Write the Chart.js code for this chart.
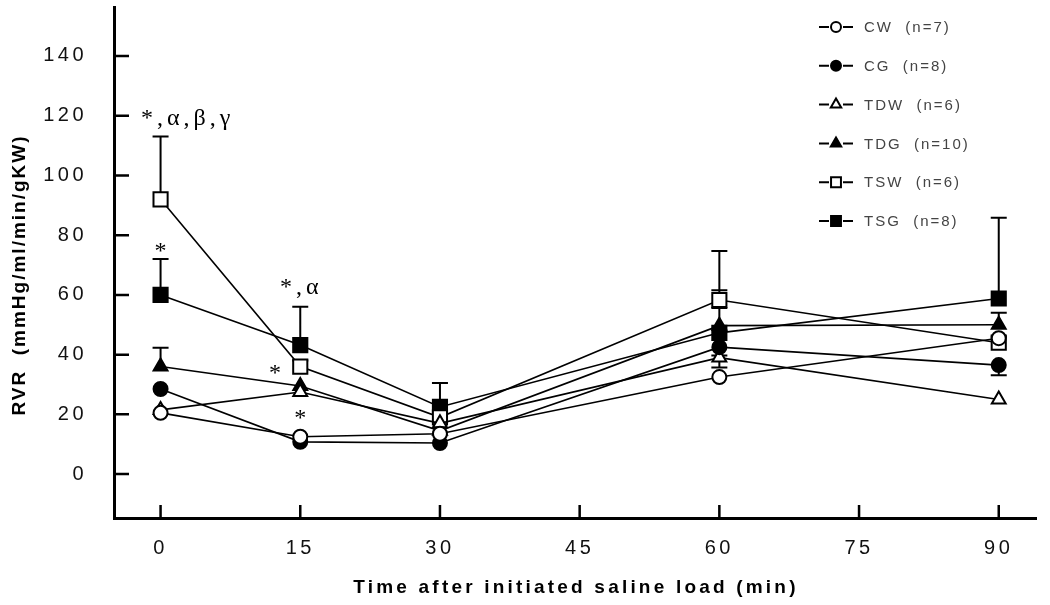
<!DOCTYPE html>
<html>
<head>
<meta charset="utf-8">
<script src="https://cdn.jsdelivr.net/npm/chart.js@4/dist/chart.umd.min.js"></script>
<style>
  html, body { margin: 0; padding: 0; background: #fff; }
</style>
</head>
<body>
<canvas id="rvr-chart" width="1050" height="605"></canvas>
<script>
// sampling times (min) and axis ticks
const times = [0, 15, 30, 60, 90];
const xTicks = [0, 15, 30, 45, 60, 75, 90];
const yTicks = [0, 20, 40, 60, 80, 100, 120, 140];

const groups = ['CW', 'CG', 'TDW', 'TDG', 'TSW', 'TSG'];
const groupN = [7, 8, 6, 10, 6, 8];

// mean RVR per group
const cw  = [20.5, 12.5, 13.5, 32.5, 45.5];
const cg  = [28.5, 10.8, 10.4, 42.5, 36.5];
const tdw = [21.5, 27.5, 17.0, 39.0, 25.0];
const tdg = [36.0, 29.5, 14.5, 49.7, 50.0];
const tsw = [92.0, 36.0, 19.0, 58.3, 44.0];
const tsg = [60.0, 43.2, 22.5, 47.3, 58.8];

// one-sided SEM bars (+ up, - down, null = none shown)
const cwErr  = [null, null, null, null, null];
const cgErr  = [null, null, null, -2.8, -3.4];
const tdwErr = [null, null, null, -3.3, null];
const tdgErr = [6.3, null, null, 5.9, 4.0];
const tswErr = [21.0, 2.0, null, 16.4, 2.0];
const tsgErr = [12.0, 12.8, 8.0, 14.3, 27.0];

// significance marks (x in min, y = baseline in RVR units)
const notes = ['*,α,β,γ', '*', '*,α', '*', '*'];
const noteX = [2.9, 0, 15.1, 12.3, 15];
const noteY = [116.9, 72.3, 60.3, 31.5, 16.4];

const values = [cw, cg, tdw, tdg, tsw, tsg];
const errors = [cwErr, cgErr, tdwErr, tdgErr, tswErr, tsgErr];

const markers = [
    { style: 'circle',   fill: '#fff', r: 7,  lr: 5 },
    { style: 'circle',   fill: '#000', r: 7,  lr: 5 },
    { style: 'triangle', fill: '#fff', r: 8,  lr: 6 },
    { style: 'triangle', fill: '#000', r: 8,  lr: 6 },
    { style: 'rect',     fill: '#fff', r: 10, lr: 7 },
    { style: 'rect',     fill: '#000', r: 10, lr: 7 },
];

const datasets = groups.map((g, i) => ({
    label: g,
    data: times.map((t, j) => ({ x: t, y: values[i][j] })),
    borderColor: '#000',
    borderWidth: 1.6,
    tension: 0,
    pointStyle: markers[i].style,
    pointRadius: markers[i].r,
    pointBackgroundColor: markers[i].fill,
    pointBorderColor: '#000',
    pointBorderWidth: 2,
}));

const extras = {
    id: 'extras',
    beforeDraw(chart) {
        chart.ctx.letterSpacing = '3.5px';
    },
    beforeDatasetsDraw(chart) {
        const { ctx, chartArea: area, scales: { x, y } } = chart;
        ctx.save();
        ctx.strokeStyle = '#000';
        ctx.lineWidth = 2.5;
        ctx.beginPath();
        yTicks.forEach(v => {
            const py = y.getPixelForValue(v);
            ctx.moveTo(area.left, py);
            ctx.lineTo(area.left + 15, py);
        });
        xTicks.forEach(v => {
            const px = x.getPixelForValue(v);
            ctx.moveTo(px, area.bottom);
            ctx.lineTo(px, area.bottom - 13);
        });
        ctx.stroke();

        // error bars
        ctx.lineWidth = 2;
        ctx.beginPath();
        errors.forEach((errs, i) => {
            errs.forEach((e, j) => {
                if (e === null) return;
                const px = x.getPixelForValue(times[j]);
                const p0 = y.getPixelForValue(values[i][j]);
                const p1 = y.getPixelForValue(values[i][j] + e);
                ctx.moveTo(px, p0);
                ctx.lineTo(px, p1);
                ctx.moveTo(px - 8, p1);
                ctx.lineTo(px + 8, p1);
            });
        });
        ctx.stroke();
        ctx.restore();
    },
    afterDraw(chart) {
        const { ctx, scales: { x, y } } = chart;
        ctx.save();
        ctx.letterSpacing = '0px';
        ctx.fillStyle = '#000';

        // significance marks
        ctx.font = '24px "Liberation Serif", "Times New Roman", serif';
        ctx.textAlign = 'center';
        ctx.textBaseline = 'alphabetic';
        notes.forEach((t, i) => {
            ctx.letterSpacing = t.length > 1 ? '4px' : '0px';
            ctx.fillText(t, x.getPixelForValue(noteX[i]), y.getPixelForValue(noteY[i]));
        });

        // axis titles
        ctx.font = 'bold 19px "Liberation Sans", Arial, sans-serif';
        ctx.textBaseline = 'middle';
        ctx.letterSpacing = '3.2px';
        ctx.fillText('Time after initiated saline load (min)', 576, 588);
        ctx.save();
        ctx.letterSpacing = '2px';
        ctx.translate(20, 275);
        ctx.rotate(-Math.PI / 2);
        ctx.fillText('RVR  (mmHg/ml/min/gKW)', 0, 0);
        ctx.restore();

        // legend
        ctx.textAlign = 'left';
        ctx.font = '15px "Liberation Sans", Arial, sans-serif';
        ctx.letterSpacing = '2px';
        groups.forEach((g, i) => {
            const ly = 27 + i * 38.8;
            ctx.strokeStyle = '#000';
            ctx.lineWidth = 2;
            ctx.beginPath();
            ctx.moveTo(819, ly); ctx.lineTo(829, ly);
            ctx.moveTo(843, ly); ctx.lineTo(853, ly);
            ctx.stroke();
            ctx.fillStyle = markers[i].fill;
            Chart.helpers.drawPoint(ctx, {
                pointStyle: markers[i].style, radius: markers[i].lr, borderWidth: 2, rotation: 0
            }, 836, ly);
            ctx.fillStyle = '#444';
            ctx.fillText(g + '  (n=' + groupN[i] + ')', 864, ly + 1);
        });
        ctx.restore();
    }
};

new Chart(document.getElementById('rvr-chart'), {
    type: 'line',
    data: { datasets },
    options: {
        responsive: false,
        animation: false,
        layout: { autoPadding: false, padding: { top: 7, right: 14, bottom: 0, left: 0 } },
        plugins: { legend: { display: false }, tooltip: { enabled: false } },
        scales: {
            x: {
                type: 'linear',
                min: -5,
                max: 94,
                afterFit: s => { s.height = 87; s.paddingLeft = 0; s.paddingRight = 0; },
                afterBuildTicks: s => { s.ticks = xTicks.map(v => ({ value: v })); },
                grid: { display: false },
                border: { color: '#000', width: 3 },
                ticks: {
                    color: '#111',
                    padding: 10,
                    maxRotation: 0,
                    font: { family: '"Liberation Sans", Arial, sans-serif', size: 20 },
                },
            },
            y: {
                min: -14.7,
                max: 156.4,
                afterFit: s => { s.width = 114; s.paddingTop = 0; s.paddingBottom = 0; },
                afterBuildTicks: s => { s.ticks = yTicks.map(v => ({ value: v })); },
                grid: { display: false },
                border: { color: '#000', width: 3 },
                ticks: {
                    color: '#111',
                    padding: 19,
                    font: { family: '"Liberation Sans", Arial, sans-serif', size: 20 },
                },
            },
        },
    },
    plugins: [extras],
});
</script>
</body>
</html>
